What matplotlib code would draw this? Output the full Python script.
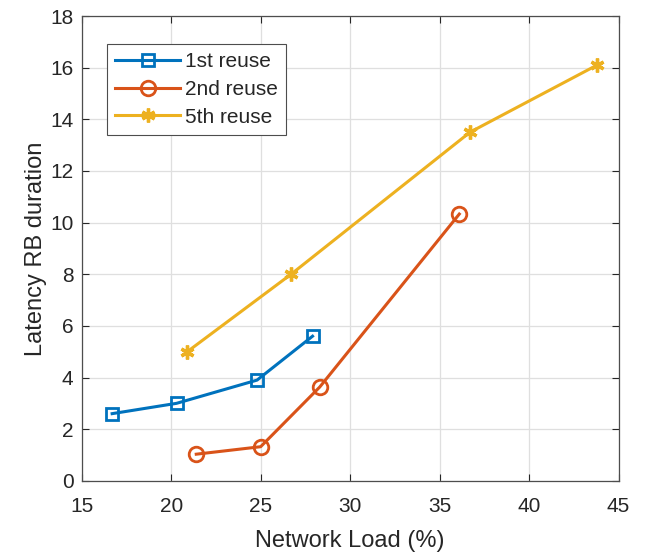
import matplotlib.pyplot as plt

# ---- data ----
load_1st = [16.7, 20.3, 24.8, 27.9]
lat_1st = [2.6, 3.0, 3.9, 5.6]

load_2nd = [21.4, 25.0, 28.3, 36.1]
lat_2nd = [1.03, 1.32, 3.63, 10.33]

load_5th = [20.9, 26.7, 36.7, 43.8]
lat_5th = [5.0, 8.0, 13.5, 16.1]

x_ticks = [15, 20, 25, 30, 35, 40, 45]
y_ticks = [0, 2, 4, 6, 8, 10, 12, 14, 16, 18]

plt.rcParams['font.family'] = ['Liberation Sans', 'DejaVu Sans']
txt = '#262626'

fig = plt.figure(figsize=(6.46, 5.52), dpi=100)
ax = fig.add_axes([0.1265, 0.129, 0.831, 0.842])

ax.plot(load_1st, lat_1st, color='#0072BD', lw=2.2, marker='s', ms=8,
        mfc='none', mew=2.0, label='1st reuse')
ax.plot(load_2nd, lat_2nd, color='#D95319', lw=2.2, marker='o', ms=10.5,
        mfc='none', mew=2.0, label='2nd reuse')
ax.plot(load_5th, lat_5th, color='#EDB120', lw=2.2, marker=(6, 2, 0), ms=10,
        mew=2.4, label='5th reuse')

ax.set_xlim(15, 45)
ax.set_ylim(0, 18)
ax.set_xticks(x_ticks)
ax.set_yticks(y_ticks)
ax.grid(True, color='#dfdfdf', lw=0.9)
ax.set_axisbelow(True)

ax.tick_params(direction='in', top=True, right=True, length=5, width=0.8,
               colors=txt, labelsize=15)
ax.tick_params(axis='x', pad=12)
ax.tick_params(axis='y', pad=6)
for s in ax.spines.values():
    s.set_color('#4d4d4d')
    s.set_linewidth(0.9)

ax.set_xlabel('Network Load (%)', fontsize=17, color=txt, labelpad=10)
ax.set_ylabel('Latency RB duration', fontsize=17, color=txt, labelpad=2)

leg = ax.legend(loc='upper left', bbox_to_anchor=(0.047, 0.94), fontsize=15,
                fancybox=False, framealpha=1, edgecolor='#4d4d4d',
                handlelength=3.1, borderpad=0.4, labelspacing=0.42,
                handletextpad=0.25, borderaxespad=0)
leg.get_frame().set_linewidth(0.8)
for t in leg.get_texts():
    t.set_color(txt)

fig.savefig('out.png', dpi=100)
